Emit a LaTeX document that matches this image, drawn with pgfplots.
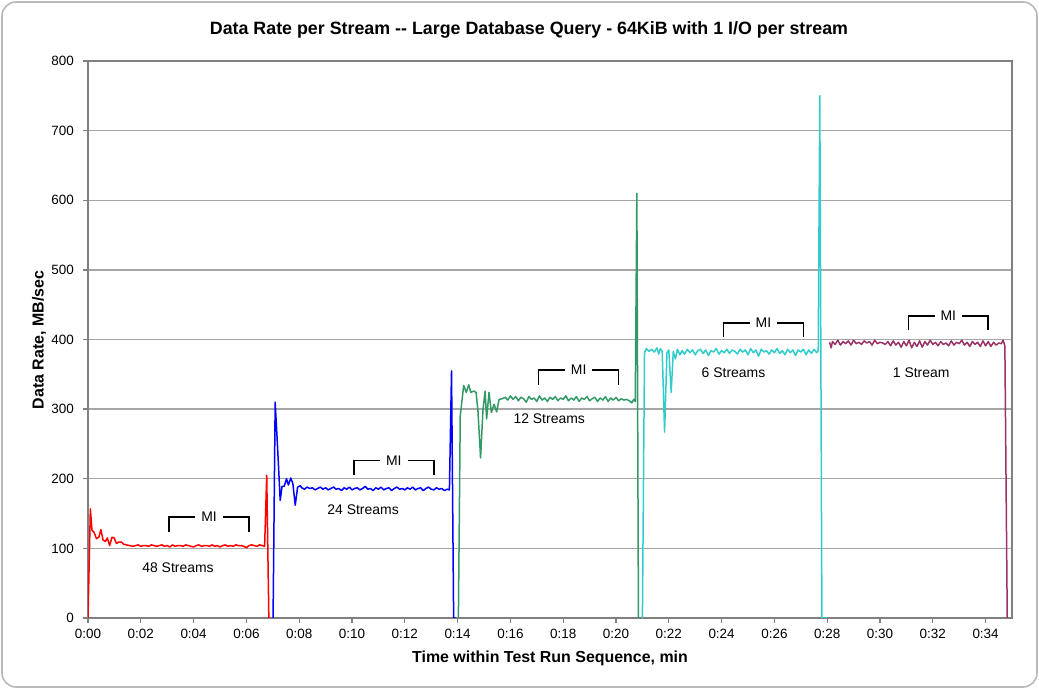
\documentclass[border=0pt]{standalone}
\usepackage{pgfplots}
\pgfplotsset{compat=1.18}
\usepackage{fontspec}
\setmainfont{Liberation Sans}

\definecolor{sRed}{HTML}{FF0000}
\definecolor{sBlue}{HTML}{0000FF}
\definecolor{sGreen}{HTML}{339966}
\definecolor{sCyan}{HTML}{33CCCC}
\definecolor{sPurple}{HTML}{993366}

\newcommand{\tickfont}{\fontsize{13.5}{15}\selectfont}
\newcommand{\notefont}{\fontsize{14}{16}\selectfont}

\begin{document}
\begin{tikzpicture}
\useasboundingbox (0,0) rectangle (1039bp,689bp);
\draw[rounded corners=14bp, draw=gray!55, line width=1.6bp] (2bp,2bp) rectangle (1037bp,687bp);

\node[font=\bfseries\fontsize{17.9}{20}\selectfont] at (529bp,659bp) {Data Rate per Stream -{}- Large Database Query - 64KiB with 1 I/O per stream};
\node[font=\bfseries\fontsize{16}{18}\selectfont] at (550bp,31bp) {Time within Test Run Sequence, min};
\node[font=\bfseries\fontsize{16}{18}\selectfont, rotate=90] at (39bp,349bp) {Data Rate, MB/sec};

\begin{axis}[
  at={(88bp,71bp)}, anchor=south west,
  scale only axis, width=924bp, height=557bp,
  xmin=0, xmax=35, ymin=0, ymax=800,
  xtick={0,2,...,34},
  xticklabels={0:00,0:02,0:04,0:06,0:08,0:10,0:12,0:14,0:16,0:18,0:20,0:22,0:24,0:26,0:28,0:30,0:32,0:34},
  ytick={0,100,...,800},
  ymajorgrids,
  grid style={gray!70, line width=1.3bp},
  axis line style={gray, line width=1.3bp},
  tick style={gray, line width=1.3bp},
  tick align=outside, major tick length=5bp,
  xtick pos=bottom, ytick pos=left,
  /pgf/number format/assume math mode=true,
  ticklabel style={font=\tickfont, text=black},
  yticklabel style={inner sep=0pt, anchor=east, xshift=-9bp},
  xticklabel style={inner sep=0pt, anchor=north, yshift=-6bp},
  every axis plot/.append style={line width=1.5bp, mark=none, line join=round},
]

% 48 streams
\addplot[sRed] coordinates {
(0,0) (0.09,157) (0.15,126) (0.23,123) (0.32,114) (0.41,116) (0.49,127) (0.57,112) (0.66,110) (0.73,115)
(0.82,104) (0.91,116) (0.99,115) (1.08,107) (1.16,109) (1.27,109) (1.35,106) (1.46,105) (1.58,104)
(1.7,103) (1.8,104) (1.9,105) (2.0,103) (2.1,104) (2.2,104) (2.3,103) (2.4,105) (2.5,104) (2.6,103)
(2.7,104) (2.8,105) (2.9,103) (3.0,104) (3.1,102) (3.2,105) (3.3,103) (3.4,104) (3.5,104) (3.6,103)
(3.7,105) (3.8,104) (3.9,103) (4.0,102) (4.1,104) (4.2,105) (4.3,103) (4.4,104) (4.5,104) (4.6,103)
(4.7,105) (4.8,103) (4.9,104) (5.0,102) (5.1,104) (5.2,105) (5.3,103) (5.4,104) (5.5,103) (5.6,105)
(5.7,104) (5.8,104) (5.9,103) (6.0,101) (6.1,104) (6.2,105) (6.3,104) (6.4,103) (6.5,105) (6.6,104)
(6.69,103) (6.77,205) (6.85,0) (6.9,0)
};

% 24 streams
\addplot[sBlue] coordinates {
(7.01,0) (7.09,310) (7.18,246) (7.28,169) (7.35,189) (7.43,189) (7.52,200) (7.59,191) (7.68,201) (7.76,193)
(7.85,162) (7.94,188) (8.04,190)
(8.1,187) (8.2,185) (8.3,188) (8.4,186) (8.5,187) (8.6,184) (8.7,186) (8.8,188) (8.9,185) (9.0,187)
(9.1,184) (9.2,186) (9.3,188) (9.4,185) (9.5,186) (9.6,183) (9.7,187) (9.8,185) (9.9,188) (10.0,184)
(10.1,186) (10.2,187) (10.3,184) (10.4,186) (10.5,189) (10.6,185) (10.7,186) (10.8,183) (10.9,187) (11.0,185)
(11.1,188) (11.2,184) (11.3,186) (11.4,187) (11.5,183) (11.6,186) (11.7,188) (11.8,185) (11.9,186) (12.0,184)
(12.1,187) (12.2,185) (12.3,188) (12.4,184) (12.5,186) (12.6,187) (12.7,183) (12.8,186) (12.9,188) (13.0,185)
(13.1,184) (13.2,187) (13.3,185) (13.4,186) (13.5,183) (13.6,185) (13.69,184) (13.77,355) (13.85,0) (13.92,0)
};

% 12 streams
\addplot[sGreen] coordinates {
(14.03,0) (14.1,290) (14.23,334) (14.33,324) (14.42,335) (14.5,324) (14.62,326) (14.7,324) (14.77,298) (14.87,230)
(14.96,298) (15.04,326) (15.1,286) (15.19,324) (15.28,295) (15.38,307) (15.48,296) (15.57,314)
(15.7,315) (15.8,317) (15.9,313) (16.0,319) (16.1,314) (16.2,318) (16.3,312) (16.4,317) (16.5,315) (16.6,310)
(16.7,318) (16.8,314) (16.9,316) (17.0,311) (17.1,319) (17.2,313) (17.3,316) (17.4,311) (17.5,317) (17.6,314)
(17.7,318) (17.8,312) (17.9,316) (18.0,314) (18.1,319) (18.2,312) (18.3,316) (18.4,313) (18.5,318) (18.6,311)
(18.7,316) (18.8,314) (18.9,318) (19.0,312) (19.1,315) (19.2,317) (19.3,311) (19.4,316) (19.5,313) (19.6,318)
(19.7,311) (19.8,316) (19.9,313) (20.0,317) (20.1,312) (20.2,315) (20.3,313) (20.4,314) (20.5,312) (20.6,309)
(20.67,314) (20.73,311) (20.79,610) (20.85,0) (20.95,0)
};

% 6 streams
\addplot[sCyan] coordinates {
(21.0,0) (21.08,381) (21.15,387) (21.25,383) (21.35,386) (21.45,382) (21.55,388) (21.62,379) (21.68,387) (21.75,383)
(21.84,267) (21.93,381) (22.0,385) (22.09,324) (22.17,383) (22.25,372) (22.33,386) (22.42,378)
(22.5,384) (22.6,379) (22.7,386) (22.8,381) (22.9,385) (23.0,378) (23.1,384) (23.2,386) (23.3,380) (23.4,385)
(23.5,377) (23.6,384) (23.7,382) (23.8,387) (23.9,379) (24.0,384) (24.1,381) (24.2,386) (24.3,380) (24.4,385)
(24.5,383) (24.6,379) (24.7,386) (24.8,382) (24.9,385) (25.0,378) (25.1,387) (25.2,381) (25.3,385) (25.4,376)
(25.5,386) (25.6,382) (25.7,384) (25.8,379) (25.9,385) (26.0,381) (26.1,387) (26.2,380) (26.3,384) (26.4,378)
(26.5,386) (26.6,381) (26.7,385) (26.8,377) (26.9,385) (27.0,382) (27.1,386) (27.2,378) (27.3,385) (27.4,380)
(27.5,386) (27.6,381) (27.66,384) (27.72,750) (27.8,0) (28.0,0)
};

% 1 stream
\addplot[sPurple] coordinates {
(28.09,396) (28.15,388) (28.2,397) (28.3,393) (28.4,399) (28.5,392) (28.6,397) (28.7,394) (28.8,398) (28.9,392)
(29.0,399) (29.1,394) (29.2,396) (29.3,393) (29.4,398) (29.5,395) (29.6,397) (29.7,392) (29.8,399) (29.9,394)
(30.0,396) (30.1,395) (30.2,393) (30.3,397) (30.4,391) (30.5,398) (30.6,392) (30.7,396) (30.8,389) (30.9,397)
(31.0,391) (31.1,399) (31.2,388) (31.3,396) (31.4,390) (31.5,398) (31.6,389) (31.7,397) (31.8,392) (31.9,399)
(32.0,393) (32.1,396) (32.2,391) (32.3,397) (32.4,393) (32.5,395) (32.6,391) (32.7,398) (32.8,392) (32.9,396)
(33.0,394) (33.1,399) (33.2,392) (33.3,396) (33.4,390) (33.5,397) (33.6,393) (33.7,396) (33.8,390) (33.9,398)
(34.0,391) (34.1,397) (34.2,390) (34.3,396) (34.4,392) (34.5,395) (34.6,394) (34.66,399) (34.73,391) (34.82,0)
};

% measurement interval brackets
\draw[black, line width=1.5bp] (axis cs:3.07,123) |- (axis cs:6.1,145) -- (axis cs:6.1,123);
\draw[black, line width=1.5bp] (axis cs:10.07,205) |- (axis cs:13.1,226) -- (axis cs:13.1,205);
\draw[black, line width=1.5bp] (axis cs:17.07,335) |- (axis cs:20.1,356) -- (axis cs:20.1,335);
\draw[black, line width=1.5bp] (axis cs:24.07,403) |- (axis cs:27.1,424) -- (axis cs:27.1,403);
\draw[black, line width=1.5bp] (axis cs:31.07,413) |- (axis cs:34.1,434) -- (axis cs:34.1,413);
\tikzset{mi/.style={fill=white, inner xsep=6bp, inner ysep=1bp, font=\notefont}}
\node[mi] at (axis cs:4.585,145) {MI};
\node[mi] at (axis cs:11.585,226) {MI};
\node[mi] at (axis cs:18.585,356) {MI};
\node[mi] at (axis cs:25.585,424) {MI};
\node[mi] at (axis cs:32.585,434) {MI};

\node[font=\notefont] at (axis cs:3.41,72) {48 Streams};
\node[font=\notefont] at (axis cs:10.42,156) {24 Streams};
\node[font=\notefont] at (axis cs:17.47,286) {12 Streams};
\node[font=\notefont] at (axis cs:24.45,352) {6 Streams};
\node[font=\notefont] at (axis cs:31.56,352) {1 Stream};
\end{axis}
\end{tikzpicture}
\end{document}
